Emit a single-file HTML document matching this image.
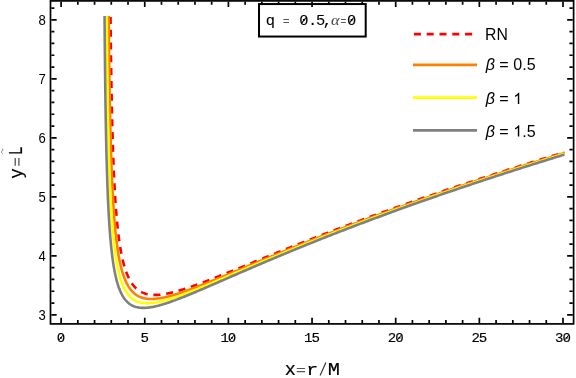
<!DOCTYPE html>
<html><head><meta charset="utf-8"><title>plot</title>
<style>html,body{margin:0;padding:0;background:#fff;}body{width:576px;height:378px;overflow:hidden;font-family:"Liberation Sans",sans-serif;}svg{display:block;will-change:transform;}</style>
</head><body>
<svg width="576" height="378" viewBox="0 0 576 378">
<rect x="0" y="0" width="576" height="378" fill="#ffffff"/>
<path d="M110.51 16.02 L110.52 16.73 L110.53 18.01 L110.54 19.28 L110.56 20.54 L110.57 21.80 L110.58 23.05 L110.60 24.29 L110.61 25.53 L110.62 26.76 L110.64 27.99 L110.65 29.21 L110.66 30.42 L110.68 31.63 L110.69 32.83 L110.71 34.02 L110.72 35.21 L110.73 36.39 L110.75 37.57 L110.76 38.74 L110.77 39.90 L110.79 41.06 L110.80 42.22 L110.82 43.36 L110.83 44.50 L110.85 45.64 L110.86 46.77 L110.87 47.89 L110.89 49.01 L110.90 50.12 L110.92 51.23 L110.93 52.33 L110.95 53.43 L110.96 54.52 L110.98 55.60 L110.99 56.68 L111.01 57.76 L111.02 58.83 L111.04 59.89 L111.05 60.95 L111.07 62.00 L111.08 63.05 L111.10 64.10 L111.11 65.13 L111.13 66.17 L111.14 67.19 L111.16 68.22 L111.17 69.23 L111.19 70.25 L111.20 71.26 L111.22 72.26 L111.23 73.26 L111.25 74.25 L111.27 75.24 L111.28 76.22 L111.30 77.20 L111.31 78.18 L111.33 79.15 L111.35 80.11 L111.36 81.07 L111.38 82.03 L111.39 82.98 L111.41 83.93 L111.43 84.87 L111.44 85.81 L111.46 86.74 L111.48 87.67 L111.49 88.59 L111.51 89.51 L111.53 90.43 L111.54 91.34 L111.56 92.25 L111.58 93.15 L111.59 94.05 L111.61 94.94 L111.63 95.83 L111.64 96.72 L111.66 97.60 L111.68 98.48 L111.70 99.35 L111.71 100.22 L111.73 101.09 L111.75 101.95 L111.77 102.81 L111.78 103.66 L111.80 104.51 L111.82 105.36 L111.84 106.20 L111.85 107.03 L111.87 107.87 L111.89 108.70 L111.91 109.52 L111.93 110.35 L111.94 111.17 L111.96 111.98 L111.98 112.79 L112.00 113.60 L112.02 114.40 L112.04 115.20 L112.05 116.00 L112.07 116.79 L112.09 117.58 L112.11 118.37 L112.13 119.15 L112.15 119.93 L112.17 120.70 L112.18 121.47 L112.20 122.24 L112.22 123.01 L112.24 123.77 L112.26 124.53 L112.28 125.28 L112.30 126.03 L112.32 126.78 L112.34 127.52 L112.36 128.26 L112.38 129.00 L112.40 129.73 L112.42 130.46 L112.44 131.19 L112.46 131.92 L112.48 132.64 L112.50 133.36 L112.52 134.07 L112.54 134.78 L112.56 135.49 L112.58 136.20 L112.60 136.90 L112.62 137.60 L112.64 138.29 L112.66 138.99 L112.68 139.68 L112.70 140.36 L112.72 141.05 L112.74 141.73 L112.76 142.40 L112.78 143.08 L112.80 143.75 L112.82 144.42 L112.84 145.09 L112.86 145.75 L112.89 146.41 L112.91 147.07 L112.93 147.72 L112.95 148.37 L112.97 149.02 L112.99 149.67 L113.01 150.31 L113.04 150.95 L113.06 151.59 L113.08 152.22 L113.10 152.85 L113.12 153.48 L113.14 154.11 L113.17 154.73 L113.19 155.36 L113.21 155.97 L113.23 156.59 L113.26 157.20 L113.28 157.81 L113.30 158.42 L113.32 159.03 L113.35 159.63 L113.37 160.23 L113.41 161.42 L113.46 162.61 L113.50 163.78 L113.55 164.94 L113.60 166.09 L113.64 167.24 L113.69 168.37 L113.74 169.49 L113.79 170.61 L113.83 171.71 L113.88 172.81 L113.93 173.89 L113.98 174.97 L114.03 176.04 L114.08 177.10 L114.13 178.15 L114.18 179.19 L114.23 180.22 L114.28 181.25 L114.33 182.26 L114.38 183.27 L114.43 184.27 L114.48 185.26 L114.53 186.24 L114.59 187.22 L114.64 188.19 L114.69 189.15 L114.74 190.10 L114.80 191.04 L114.85 191.97 L114.91 192.90 L114.96 193.82 L115.01 194.74 L115.07 195.64 L115.12 196.54 L115.18 197.43 L115.23 198.31 L115.29 199.19 L115.35 200.06 L115.40 200.92 L115.46 201.78 L115.52 202.62 L115.58 203.46 L115.63 204.30 L115.69 205.13 L115.75 205.95 L115.81 206.76 L115.87 207.57 L115.93 208.37 L115.99 209.17 L116.05 209.96 L116.11 210.74 L116.17 211.52 L116.23 212.29 L116.29 213.05 L116.35 213.81 L116.41 214.56 L116.48 215.30 L116.54 216.04 L116.60 216.78 L116.66 217.51 L116.73 218.23 L116.79 218.94 L116.86 219.66 L116.92 220.36 L116.98 221.06 L117.05 221.75 L117.11 222.44 L117.18 223.13 L117.25 223.80 L117.31 224.48 L117.38 225.14 L117.45 225.80 L117.51 226.46 L117.58 227.11 L117.65 227.76 L117.72 228.40 L117.79 229.03 L117.86 229.67 L117.93 230.29 L118.00 230.91 L118.07 231.53 L118.14 232.14 L118.21 232.75 L118.28 233.35 L118.35 233.95 L118.46 234.83 L118.57 235.71 L118.67 236.57 L118.78 237.43 L118.90 238.28 L119.01 239.11 L119.12 239.94 L119.23 240.75 L119.35 241.56 L119.46 242.36 L119.58 243.14 L119.69 243.92 L119.81 244.69 L119.93 245.45 L120.05 246.20 L120.17 246.94 L120.29 247.68 L120.41 248.40 L120.53 249.12 L120.65 249.82 L120.78 250.52 L120.90 251.21 L121.03 251.90 L121.15 252.57 L121.28 253.24 L121.41 253.90 L121.54 254.55 L121.67 255.19 L121.80 255.82 L121.93 256.45 L122.06 257.07 L122.19 257.69 L122.33 258.29 L122.46 258.89 L122.60 259.48 L122.78 260.26 L122.96 261.02 L123.15 261.77 L123.33 262.51 L123.52 263.24 L123.71 263.96 L123.90 264.66 L124.09 265.35 L124.29 266.03 L124.49 266.70 L124.68 267.36 L124.88 268.01 L125.08 268.65 L125.29 269.28 L125.49 269.89 L125.70 270.50 L125.90 271.09 L126.11 271.68 L126.32 272.25 L126.53 272.82 L126.80 273.51 L127.07 274.19 L127.35 274.86 L127.62 275.51 L127.90 276.14 L128.18 276.76 L128.46 277.37 L128.75 277.97 L129.04 278.55 L129.33 279.12 L129.63 279.67 L129.92 280.21 L130.22 280.74 L130.59 281.36 L130.95 281.96 L131.33 282.55 L131.70 283.11 L132.08 283.67 L132.46 284.20 L132.85 284.72 L133.24 285.22 L133.64 285.71 L134.04 286.18 L134.45 286.64 L134.85 287.08 L135.34 287.58 L135.82 288.05 L136.32 288.51 L136.82 288.95 L137.32 289.37 L137.84 289.78 L138.35 290.16 L138.88 290.53 L139.41 290.89 L139.94 291.22 L140.48 291.54 L141.03 291.84 L141.59 292.13 L142.15 292.40 L142.71 292.66 L143.29 292.90 L143.87 293.12 L144.45 293.33 L145.04 293.53 L145.64 293.71 L146.25 293.88 L146.86 294.04 L147.48 294.18 L148.10 294.31 L148.73 294.43 L149.37 294.53 L150.02 294.62 L150.67 294.70 L151.33 294.77 L151.99 294.82 L152.66 294.86 L153.34 294.90 L154.03 294.91 L154.72 294.92 L155.42 294.92 L156.02 294.91 L156.63 294.89 L157.25 294.86 L157.87 294.83 L158.50 294.79 L159.13 294.74 L159.76 294.68 L160.40 294.62 L161.05 294.54 L161.70 294.47 L162.36 294.38 L163.02 294.29 L163.69 294.19 L164.37 294.08 L165.05 293.97 L165.73 293.85 L166.42 293.72 L167.12 293.59 L167.82 293.45 L168.41 293.33 L169.00 293.20 L169.59 293.07 L170.19 292.94 L170.80 292.80 L171.41 292.65 L172.02 292.51 L172.63 292.36 L173.25 292.20 L173.88 292.04 L174.51 291.88 L175.14 291.71 L175.77 291.54 L176.41 291.36 L177.06 291.18 L177.71 291.00 L178.36 290.81 L179.01 290.62 L179.67 290.43 L180.34 290.23 L181.01 290.03 L181.68 289.82 L182.36 289.62 L183.04 289.40 L183.72 289.19 L184.41 288.97 L185.10 288.74 L185.80 288.52 L186.50 288.29 L187.21 288.05 L187.92 287.81 L188.49 287.62 L189.07 287.43 L189.64 287.23 L190.22 287.03 L190.80 286.83 L191.39 286.63 L191.98 286.42 L192.57 286.22 L193.16 286.01 L193.76 285.80 L194.35 285.59 L194.96 285.37 L195.56 285.15 L196.17 284.93 L196.78 284.71 L197.39 284.49 L198.01 284.27 L198.62 284.04 L199.25 283.81 L199.87 283.58 L200.50 283.35 L201.13 283.11 L201.76 282.88 L202.40 282.64 L203.03 282.40 L203.68 282.16 L204.32 281.91 L204.97 281.67 L205.62 281.42 L206.27 281.17 L206.93 280.92 L207.58 280.67 L208.25 280.41 L208.91 280.16 L209.58 279.90 L210.25 279.64 L210.92 279.38 L211.60 279.11 L212.28 278.85 L212.96 278.58 L213.65 278.31 L214.33 278.04 L215.03 277.77 L215.72 277.50 L216.42 277.22 L217.12 276.95 L217.82 276.67 L218.53 276.39 L219.24 276.11 L219.95 275.82 L220.66 275.54 L221.38 275.25 L222.10 274.96 L222.83 274.67 L223.56 274.38 L224.29 274.09 L225.02 273.80 L225.76 273.50 L226.50 273.20 L227.06 272.98 L227.62 272.75 L228.18 272.53 L228.74 272.30 L229.30 272.07 L229.87 271.85 L230.44 271.62 L231.01 271.39 L231.58 271.16 L232.15 270.93 L232.72 270.69 L233.30 270.46 L233.88 270.23 L234.46 269.99 L235.04 269.75 L235.62 269.52 L236.21 269.28 L236.80 269.04 L237.39 268.80 L237.98 268.56 L238.57 268.32 L239.16 268.08 L239.76 267.84 L240.36 267.60 L240.96 267.35 L241.56 267.11 L242.16 266.86 L242.77 266.62 L243.38 266.37 L243.98 266.12 L244.60 265.88 L245.21 265.63 L245.82 265.38 L246.44 265.13 L247.06 264.87 L247.68 264.62 L248.30 264.37 L248.92 264.12 L249.55 263.86 L250.17 263.61 L250.80 263.35 L251.43 263.09 L252.07 262.84 L252.70 262.58 L253.34 262.32 L253.98 262.06 L254.62 261.80 L255.26 261.54 L255.90 261.28 L256.55 261.01 L257.20 260.75 L257.85 260.49 L258.50 260.22 L259.15 259.96 L259.81 259.69 L260.47 259.43 L261.13 259.16 L261.79 258.89 L262.45 258.62 L263.11 258.35 L263.78 258.08 L264.45 257.81 L265.12 257.54 L265.79 257.27 L266.47 256.99 L267.14 256.72 L267.82 256.45 L268.50 256.17 L269.19 255.90 L269.87 255.62 L270.56 255.34 L271.24 255.06 L271.93 254.79 L272.63 254.51 L273.32 254.23 L274.02 253.95 L274.71 253.67 L275.41 253.38 L276.11 253.10 L276.82 252.82 L277.52 252.54 L278.23 252.25 L278.94 251.97 L279.65 251.68 L280.37 251.39 L281.08 251.11 L281.80 250.82 L282.52 250.53 L283.24 250.24 L283.96 249.95 L284.69 249.66 L285.42 249.37 L286.15 249.08 L286.88 248.79 L287.61 248.50 L288.35 248.21 L289.08 247.91 L289.82 247.62 L290.56 247.32 L291.31 247.03 L292.05 246.73 L292.80 246.43 L293.55 246.14 L294.30 245.84 L295.06 245.54 L295.81 245.24 L296.57 244.94 L297.33 244.64 L298.09 244.34 L298.85 244.04 L299.62 243.74 L300.39 243.43 L301.16 243.13 L301.93 242.83 L302.70 242.52 L303.48 242.22 L304.26 241.91 L305.04 241.60 L305.82 241.30 L306.61 240.99 L307.39 240.68 L308.18 240.37 L308.97 240.06 L309.76 239.75 L310.56 239.44 L311.36 239.13 L312.15 238.82 L312.96 238.51 L313.76 238.20 L314.56 237.88 L315.37 237.57 L316.18 237.26 L316.99 236.94 L317.81 236.62 L318.62 236.31 L319.44 235.99 L320.26 235.68 L321.08 235.36 L321.91 235.04 L322.73 234.72 L323.56 234.40 L324.39 234.08 L325.22 233.76 L326.06 233.44 L326.90 233.12 L327.74 232.80 L328.30 232.58 L328.86 232.37 L329.42 232.15 L329.98 231.94 L330.55 231.72 L331.11 231.50 L331.68 231.29 L332.25 231.07 L332.82 230.85 L333.38 230.64 L333.96 230.42 L334.53 230.20 L335.10 229.98 L335.67 229.77 L336.25 229.55 L336.82 229.33 L337.40 229.11 L337.97 228.89 L338.55 228.67 L339.13 228.45 L339.71 228.23 L340.29 228.01 L340.87 227.79 L341.46 227.57 L342.04 227.35 L342.62 227.13 L343.21 226.91 L343.80 226.69 L344.38 226.47 L344.97 226.25 L345.56 226.02 L346.15 225.80 L346.75 225.58 L347.34 225.36 L347.93 225.13 L348.53 224.91 L349.12 224.69 L349.72 224.46 L350.32 224.24 L350.91 224.02 L351.51 223.79 L352.11 223.57 L352.72 223.34 L353.32 223.12 L353.92 222.89 L354.53 222.67 L355.13 222.44 L355.74 222.22 L356.35 221.99 L356.95 221.76 L357.56 221.54 L358.17 221.31 L358.78 221.08 L359.40 220.86 L360.01 220.63 L360.62 220.40 L361.24 220.18 L361.86 219.95 L362.47 219.72 L363.09 219.49 L363.71 219.26 L364.33 219.03 L364.95 218.80 L365.58 218.58 L366.20 218.35 L366.82 218.12 L367.45 217.89 L368.08 217.66 L368.70 217.43 L369.33 217.20 L369.96 216.96 L370.59 216.73 L371.22 216.50 L371.85 216.27 L372.49 216.04 L373.12 215.81 L373.76 215.58 L374.39 215.34 L375.03 215.11 L375.67 214.88 L376.31 214.65 L376.95 214.41 L377.59 214.18 L378.24 213.95 L378.88 213.71 L379.52 213.48 L380.17 213.24 L380.82 213.01 L381.46 212.77 L382.11 212.54 L382.76 212.31 L383.41 212.07 L384.06 211.83 L384.72 211.60 L385.37 211.36 L386.03 211.13 L386.68 210.89 L387.34 210.65 L388.00 210.42 L388.66 210.18 L389.32 209.94 L389.98 209.71 L390.64 209.47 L391.30 209.23 L391.97 208.99 L392.63 208.76 L393.30 208.52 L393.97 208.28 L394.64 208.04 L395.30 207.80 L395.98 207.56 L396.65 207.32 L397.32 207.08 L397.99 206.84 L398.67 206.61 L399.34 206.36 L400.02 206.12 L400.70 205.88 L401.38 205.64 L402.06 205.40 L402.74 205.16 L403.42 204.92 L404.10 204.68 L404.79 204.44 L405.47 204.20 L406.16 203.95 L406.85 203.71 L407.53 203.47 L408.22 203.23 L408.91 202.98 L409.61 202.74 L410.30 202.50 L410.99 202.25 L411.69 202.01 L412.38 201.77 L413.08 201.52 L413.78 201.28 L414.48 201.03 L415.18 200.79 L415.88 200.55 L416.58 200.30 L417.28 200.06 L417.99 199.81 L418.69 199.56 L419.40 199.32 L420.11 199.07 L420.81 198.83 L421.52 198.58 L422.24 198.33 L422.95 198.09 L423.66 197.84 L424.37 197.59 L425.09 197.35 L425.80 197.10 L426.52 196.85 L427.24 196.60 L427.96 196.36 L428.68 196.11 L429.40 195.86 L430.12 195.61 L430.85 195.36 L431.57 195.11 L432.30 194.86 L433.03 194.61 L433.75 194.36 L434.48 194.12 L435.21 193.87 L435.94 193.62 L436.68 193.37 L437.41 193.11 L438.14 192.86 L438.88 192.61 L439.62 192.36 L440.35 192.11 L441.09 191.86 L441.83 191.61 L442.57 191.36 L443.32 191.10 L444.06 190.85 L444.80 190.60 L445.55 190.35 L446.30 190.10 L447.04 189.84 L447.79 189.59 L448.54 189.34 L449.29 189.08 L450.05 188.83 L450.80 188.58 L451.55 188.32 L452.31 188.07 L453.07 187.81 L453.82 187.56 L454.58 187.30 L455.34 187.05 L456.10 186.79 L456.87 186.54 L457.63 186.28 L458.39 186.03 L459.16 185.77 L459.92 185.52 L460.69 185.26 L461.46 185.01 L462.23 184.75 L463.00 184.49 L463.77 184.24 L464.55 183.98 L465.32 183.72 L466.10 183.46 L466.87 183.21 L467.65 182.95 L468.43 182.69 L469.21 182.43 L469.99 182.18 L470.77 181.92 L471.56 181.66 L472.34 181.40 L473.13 181.14 L473.91 180.88 L474.70 180.62 L475.49 180.36 L476.28 180.10 L477.07 179.84 L477.87 179.58 L478.66 179.32 L479.45 179.06 L480.25 178.80 L481.05 178.54 L481.84 178.28 L482.64 178.02 L483.44 177.76 L484.25 177.50 L485.05 177.24 L485.85 176.98 L486.66 176.71 L487.46 176.45 L488.27 176.19 L489.08 175.93 L489.89 175.66 L490.70 175.40 L491.51 175.14 L492.32 174.88 L493.14 174.61 L493.95 174.35 L494.77 174.09 L495.59 173.82 L496.41 173.56 L497.23 173.29 L498.05 173.03 L498.87 172.77 L499.69 172.50 L500.52 172.24 L501.34 171.97 L502.17 171.71 L503.00 171.44 L503.83 171.18 L504.66 170.91 L505.49 170.64 L506.32 170.38 L507.15 170.11 L507.99 169.85 L508.83 169.58 L509.66 169.31 L510.50 169.05 L511.34 168.78 L512.18 168.51 L513.02 168.25 L513.87 167.98 L514.71 167.71 L515.56 167.44 L516.40 167.18 L517.25 166.91 L518.10 166.64 L518.95 166.37 L519.80 166.10 L520.65 165.83 L521.51 165.57 L522.36 165.30 L523.22 165.03 L524.08 164.76 L524.93 164.49 L525.79 164.22 L526.65 163.95 L527.52 163.68 L528.38 163.41 L529.24 163.14 L530.11 162.87 L530.98 162.60 L531.84 162.33 L532.71 162.06 L533.58 161.78 L534.45 161.51 L535.33 161.24 L536.20 160.97 L537.08 160.70 L537.95 160.43 L538.83 160.15 L539.71 159.88 L540.59 159.61 L541.47 159.34 L542.35 159.06 L543.23 158.79 L544.12 158.52 L545.00 158.25 L545.89 157.97 L546.78 157.70 L547.67 157.42 L548.56 157.15 L549.45 156.88 L550.34 156.60 L551.24 156.33 L552.13 156.05 L553.03 155.78 L553.93 155.50 L554.83 155.23 L555.73 154.95 L556.63 154.68 L557.53 154.40 L558.44 154.13 L559.34 153.85 L560.25 153.58 L561.15 153.30 L562.06 153.02 L562.97 152.75 L563.88 152.47 L564.34 152.33" fill="none" stroke="#ff0000" stroke-width="2.60" stroke-linejoin="round" stroke-dasharray="7 5.8" stroke-dashoffset="11.9"/>
<path d="M108.69 16.02 L108.70 17.10 L108.71 18.42 L108.72 19.74 L108.73 21.04 L108.74 22.34 L108.76 23.64 L108.77 24.92 L108.78 26.20 L108.79 27.47 L108.81 28.74 L108.82 30.00 L108.83 31.25 L108.85 32.49 L108.86 33.73 L108.87 34.96 L108.88 36.19 L108.90 37.41 L108.91 38.62 L108.92 39.83 L108.94 41.03 L108.95 42.22 L108.96 43.41 L108.98 44.59 L108.99 45.77 L109.00 46.94 L109.02 48.10 L109.03 49.26 L109.04 50.41 L109.06 51.56 L109.07 52.70 L109.09 53.83 L109.10 54.96 L109.11 56.08 L109.13 57.20 L109.14 58.31 L109.16 59.42 L109.17 60.52 L109.18 61.61 L109.20 62.70 L109.21 63.79 L109.23 64.86 L109.24 65.94 L109.26 67.00 L109.27 68.06 L109.28 69.12 L109.30 70.17 L109.31 71.22 L109.33 72.26 L109.34 73.29 L109.36 74.32 L109.37 75.35 L109.39 76.37 L109.40 77.39 L109.42 78.40 L109.43 79.40 L109.45 80.40 L109.46 81.40 L109.48 82.39 L109.49 83.37 L109.51 84.35 L109.52 85.33 L109.54 86.30 L109.56 87.27 L109.57 88.23 L109.59 89.18 L109.60 90.14 L109.62 91.08 L109.63 92.03 L109.65 92.97 L109.67 93.90 L109.68 94.83 L109.70 95.75 L109.71 96.67 L109.73 97.59 L109.75 98.50 L109.76 99.41 L109.78 100.31 L109.80 101.21 L109.81 102.11 L109.83 103.00 L109.85 103.88 L109.86 104.76 L109.88 105.64 L109.90 106.51 L109.91 107.38 L109.93 108.25 L109.95 109.11 L109.96 109.97 L109.98 110.82 L110.00 111.67 L110.01 112.51 L110.03 113.35 L110.05 114.19 L110.07 115.02 L110.08 115.85 L110.10 116.68 L110.12 117.50 L110.14 118.31 L110.15 119.13 L110.17 119.94 L110.19 120.74 L110.21 121.55 L110.22 122.34 L110.24 123.14 L110.26 123.93 L110.28 124.72 L110.30 125.50 L110.32 126.28 L110.33 127.06 L110.35 127.83 L110.37 128.60 L110.39 129.37 L110.41 130.13 L110.43 130.89 L110.44 131.64 L110.46 132.40 L110.48 133.15 L110.50 133.89 L110.52 134.63 L110.54 135.37 L110.56 136.11 L110.58 136.84 L110.59 137.57 L110.61 138.29 L110.63 139.01 L110.65 139.73 L110.67 140.45 L110.69 141.16 L110.71 141.87 L110.73 142.57 L110.75 143.28 L110.77 143.97 L110.79 144.67 L110.81 145.36 L110.83 146.05 L110.85 146.74 L110.87 147.42 L110.89 148.11 L110.91 148.78 L110.93 149.46 L110.95 150.13 L110.97 150.80 L110.99 151.46 L111.01 152.13 L111.03 152.79 L111.05 153.44 L111.07 154.10 L111.09 154.75 L111.11 155.40 L111.13 156.04 L111.16 156.68 L111.18 157.32 L111.20 157.96 L111.22 158.59 L111.24 159.23 L111.26 159.85 L111.28 160.48 L111.30 161.10 L111.32 161.72 L111.35 162.34 L111.37 162.96 L111.39 163.57 L111.41 164.18 L111.43 164.78 L111.45 165.39 L111.48 165.99 L111.52 167.18 L111.56 168.37 L111.61 169.54 L111.65 170.71 L111.70 171.86 L111.74 173.01 L111.79 174.14 L111.84 175.27 L111.88 176.38 L111.93 177.49 L111.97 178.58 L112.02 179.67 L112.07 180.75 L112.12 181.82 L112.16 182.88 L112.21 183.93 L112.26 184.97 L112.31 186.00 L112.36 187.03 L112.41 188.04 L112.46 189.05 L112.51 190.05 L112.56 191.04 L112.61 192.02 L112.66 192.99 L112.71 193.96 L112.76 194.92 L112.81 195.86 L112.86 196.81 L112.91 197.74 L112.97 198.67 L113.02 199.58 L113.07 200.49 L113.13 201.40 L113.18 202.29 L113.23 203.18 L113.29 204.06 L113.34 204.94 L113.40 205.80 L113.45 206.66 L113.51 207.51 L113.56 208.36 L113.62 209.20 L113.67 210.03 L113.73 210.85 L113.79 211.67 L113.84 212.48 L113.90 213.29 L113.96 214.09 L114.02 214.88 L114.08 215.66 L114.13 216.44 L114.19 217.21 L114.25 217.98 L114.31 218.74 L114.37 219.49 L114.43 220.24 L114.49 220.98 L114.55 221.72 L114.62 222.45 L114.68 223.17 L114.74 223.89 L114.80 224.60 L114.86 225.31 L114.93 226.01 L114.99 226.70 L115.05 227.39 L115.12 228.08 L115.18 228.76 L115.24 229.43 L115.31 230.10 L115.37 230.76 L115.44 231.42 L115.50 232.07 L115.57 232.71 L115.64 233.35 L115.70 233.99 L115.77 234.62 L115.84 235.25 L115.91 235.87 L115.97 236.48 L116.04 237.10 L116.11 237.70 L116.18 238.30 L116.25 238.90 L116.35 239.78 L116.46 240.66 L116.56 241.52 L116.67 242.38 L116.78 243.22 L116.89 244.06 L117.00 244.88 L117.11 245.69 L117.22 246.50 L117.33 247.29 L117.44 248.08 L117.55 248.85 L117.67 249.62 L117.78 250.38 L117.90 251.13 L118.01 251.87 L118.13 252.60 L118.25 253.32 L118.37 254.03 L118.49 254.73 L118.61 255.43 L118.73 256.12 L118.85 256.80 L118.97 257.47 L119.10 258.13 L119.22 258.79 L119.35 259.43 L119.47 260.07 L119.60 260.70 L119.73 261.33 L119.86 261.94 L119.99 262.55 L120.12 263.15 L120.25 263.75 L120.38 264.33 L120.56 265.10 L120.73 265.86 L120.91 266.61 L121.10 267.34 L121.28 268.06 L121.46 268.77 L121.65 269.47 L121.84 270.16 L122.03 270.83 L122.22 271.49 L122.41 272.15 L122.61 272.79 L122.80 273.42 L123.00 274.04 L123.20 274.65 L123.40 275.25 L123.60 275.84 L123.81 276.42 L124.01 276.98 L124.27 277.68 L124.53 278.36 L124.80 279.03 L125.07 279.68 L125.34 280.32 L125.61 280.94 L125.88 281.55 L126.16 282.15 L126.44 282.73 L126.72 283.30 L127.01 283.86 L127.30 284.40 L127.59 284.93 L127.94 285.55 L128.30 286.15 L128.66 286.74 L129.02 287.30 L129.39 287.85 L129.77 288.39 L130.14 288.90 L130.52 289.41 L130.91 289.89 L131.30 290.36 L131.69 290.82 L132.16 291.33 L132.63 291.82 L133.10 292.30 L133.58 292.75 L134.07 293.18 L134.56 293.60 L135.06 294.00 L135.57 294.38 L136.08 294.74 L136.60 295.09 L137.12 295.42 L137.65 295.73 L138.18 296.03 L138.72 296.31 L139.27 296.57 L139.83 296.82 L140.39 297.06 L140.95 297.28 L141.52 297.48 L142.10 297.67 L142.69 297.85 L143.28 298.01 L143.88 298.16 L144.48 298.30 L145.09 298.42 L145.71 298.53 L146.33 298.63 L146.97 298.71 L147.60 298.78 L148.25 298.84 L148.90 298.89 L149.56 298.93 L150.22 298.95 L150.89 298.96 L151.57 298.97 L152.25 298.96 L152.95 298.94 L153.64 298.91 L154.25 298.87 L154.86 298.83 L155.47 298.78 L156.09 298.72 L156.72 298.65 L157.35 298.58 L157.99 298.50 L158.63 298.42 L159.27 298.32 L159.93 298.22 L160.58 298.11 L161.25 298.00 L161.91 297.88 L162.59 297.75 L163.27 297.61 L163.95 297.47 L164.64 297.33 L165.34 297.17 L166.04 297.01 L166.63 296.87 L167.22 296.73 L167.81 296.59 L168.41 296.43 L169.02 296.28 L169.63 296.12 L170.24 295.96 L170.85 295.79 L171.47 295.62 L172.10 295.44 L172.72 295.27 L173.36 295.08 L173.99 294.90 L174.63 294.71 L175.28 294.51 L175.92 294.31 L176.58 294.11 L177.23 293.91 L177.89 293.70 L178.56 293.48 L179.22 293.27 L179.90 293.05 L180.57 292.82 L181.25 292.60 L181.94 292.37 L182.63 292.13 L183.32 291.90 L184.02 291.66 L184.72 291.41 L185.43 291.16 L185.99 290.96 L186.57 290.76 L187.14 290.56 L187.71 290.35 L188.29 290.14 L188.87 289.93 L189.46 289.72 L190.05 289.50 L190.64 289.29 L191.23 289.07 L191.82 288.85 L192.42 288.62 L193.02 288.40 L193.63 288.17 L194.23 287.94 L194.84 287.71 L195.45 287.48 L196.07 287.25 L196.69 287.01 L197.31 286.77 L197.93 286.53 L198.56 286.29 L199.19 286.05 L199.82 285.80 L200.45 285.56 L201.09 285.31 L201.73 285.06 L202.38 284.80 L203.02 284.55 L203.67 284.29 L204.33 284.03 L204.98 283.77 L205.64 283.51 L206.30 283.25 L206.96 282.98 L207.63 282.72 L208.30 282.45 L208.97 282.18 L209.65 281.91 L210.33 281.63 L211.01 281.36 L211.70 281.08 L212.38 280.80 L213.07 280.52 L213.77 280.24 L214.46 279.96 L215.16 279.67 L215.87 279.39 L216.57 279.10 L217.28 278.81 L217.99 278.52 L218.71 278.23 L219.43 277.93 L220.15 277.64 L220.87 277.34 L221.60 277.04 L222.33 276.74 L223.06 276.44 L223.80 276.13 L224.54 275.83 L225.10 275.60 L225.66 275.37 L226.22 275.14 L226.78 274.91 L227.34 274.67 L227.91 274.44 L228.47 274.20 L229.04 273.97 L229.61 273.73 L230.19 273.50 L230.76 273.26 L231.34 273.02 L231.92 272.78 L232.50 272.54 L233.08 272.30 L233.66 272.06 L234.25 271.81 L234.83 271.57 L235.42 271.32 L236.01 271.08 L236.60 270.83 L237.20 270.59 L237.79 270.34 L238.39 270.09 L238.99 269.84 L239.59 269.59 L240.20 269.34 L240.80 269.09 L241.41 268.84 L242.02 268.59 L242.63 268.33 L243.24 268.08 L243.85 267.82 L244.47 267.57 L245.09 267.31 L245.71 267.05 L246.33 266.80 L246.95 266.54 L247.58 266.28 L248.20 266.02 L248.83 265.76 L249.46 265.50 L250.10 265.23 L250.73 264.97 L251.37 264.71 L252.01 264.44 L252.65 264.18 L253.29 263.91 L253.93 263.64 L254.58 263.38 L255.23 263.11 L255.88 262.84 L256.53 262.57 L257.18 262.30 L257.84 262.03 L258.49 261.76 L259.15 261.49 L259.81 261.21 L260.48 260.94 L261.14 260.67 L261.81 260.39 L262.48 260.12 L263.15 259.84 L263.82 259.56 L264.49 259.28 L265.17 259.01 L265.85 258.73 L266.53 258.45 L267.21 258.17 L267.89 257.89 L268.58 257.61 L269.27 257.32 L269.96 257.04 L270.65 256.76 L271.34 256.47 L272.04 256.19 L272.74 255.90 L273.44 255.62 L274.14 255.33 L274.84 255.04 L275.55 254.75 L276.25 254.47 L276.96 254.18 L277.68 253.89 L278.39 253.60 L279.10 253.30 L279.82 253.01 L280.54 252.72 L281.26 252.43 L281.99 252.13 L282.71 251.84 L283.44 251.54 L284.17 251.25 L284.90 250.95 L285.63 250.66 L286.37 250.36 L287.11 250.06 L287.85 249.76 L288.59 249.46 L289.33 249.16 L290.08 248.86 L290.82 248.56 L291.57 248.26 L292.32 247.96 L293.08 247.66 L293.83 247.35 L294.59 247.05 L295.35 246.74 L296.11 246.44 L296.88 246.13 L297.64 245.83 L298.41 245.52 L299.18 245.21 L299.95 244.90 L300.73 244.60 L301.50 244.29 L302.28 243.98 L303.06 243.67 L303.84 243.36 L304.63 243.04 L305.41 242.73 L306.20 242.42 L306.99 242.11 L307.79 241.79 L308.58 241.48 L309.38 241.16 L310.18 240.85 L310.98 240.53 L311.78 240.22 L312.59 239.90 L313.39 239.58 L314.20 239.26 L315.02 238.94 L315.83 238.63 L316.65 238.31 L317.46 237.98 L318.28 237.66 L319.11 237.34 L319.93 237.02 L320.76 236.70 L321.59 236.38 L322.42 236.05 L323.25 235.73 L324.08 235.40 L324.92 235.08 L325.76 234.75 L326.32 234.53 L326.88 234.32 L327.45 234.10 L328.01 233.88 L328.57 233.66 L329.14 233.44 L329.71 233.23 L330.27 233.01 L330.84 232.79 L331.41 232.57 L331.98 232.35 L332.55 232.13 L333.13 231.91 L333.70 231.69 L334.27 231.47 L334.85 231.25 L335.42 231.02 L336.00 230.80 L336.58 230.58 L337.16 230.36 L337.74 230.14 L338.32 229.92 L338.90 229.69 L339.48 229.47 L340.07 229.25 L340.65 229.02 L341.24 228.80 L341.83 228.58 L342.41 228.35 L343.00 228.13 L343.59 227.90 L344.18 227.68 L344.78 227.46 L345.37 227.23 L345.96 227.01 L346.56 226.78 L347.15 226.55 L347.75 226.33 L348.35 226.10 L348.95 225.88 L349.55 225.65 L350.15 225.42 L350.75 225.20 L351.35 224.97 L351.95 224.74 L352.56 224.51 L353.16 224.29 L353.77 224.06 L354.38 223.83 L354.99 223.60 L355.60 223.37 L356.21 223.14 L356.82 222.91 L357.43 222.69 L358.04 222.46 L358.66 222.23 L359.27 222.00 L359.89 221.77 L360.51 221.54 L361.13 221.30 L361.75 221.07 L362.37 220.84 L362.99 220.61 L363.61 220.38 L364.24 220.15 L364.86 219.92 L365.49 219.68 L366.11 219.45 L366.74 219.22 L367.37 218.99 L368.00 218.75 L368.63 218.52 L369.26 218.29 L369.89 218.05 L370.53 217.82 L371.16 217.59 L371.80 217.35 L372.43 217.12 L373.07 216.88 L373.71 216.65 L374.35 216.41 L374.99 216.18 L375.63 215.94 L376.28 215.71 L376.92 215.47 L377.57 215.23 L378.21 215.00 L378.86 214.76 L379.51 214.53 L380.16 214.29 L380.81 214.05 L381.46 213.81 L382.11 213.58 L382.76 213.34 L383.42 213.10 L384.07 212.86 L384.73 212.62 L385.38 212.39 L386.04 212.15 L386.70 211.91 L387.36 211.67 L388.02 211.43 L388.69 211.19 L389.35 210.95 L390.01 210.71 L390.68 210.47 L391.35 210.23 L392.01 209.99 L392.68 209.75 L393.35 209.51 L394.02 209.27 L394.70 209.03 L395.37 208.78 L396.04 208.54 L396.72 208.30 L397.39 208.06 L398.07 207.82 L398.75 207.57 L399.43 207.33 L400.11 207.09 L400.79 206.85 L401.47 206.60 L402.16 206.36 L402.84 206.12 L403.53 205.87 L404.21 205.63 L404.90 205.38 L405.59 205.14 L406.28 204.89 L406.97 204.65 L407.66 204.40 L408.35 204.16 L409.05 203.91 L409.74 203.67 L410.44 203.42 L411.14 203.18 L411.84 202.93 L412.53 202.68 L413.23 202.44 L413.94 202.19 L414.64 201.94 L415.34 201.70 L416.05 201.45 L416.75 201.20 L417.46 200.95 L418.17 200.71 L418.88 200.46 L419.59 200.21 L420.30 199.96 L421.01 199.71 L421.72 199.46 L422.44 199.22 L423.15 198.97 L423.87 198.72 L424.59 198.47 L425.31 198.22 L426.03 197.97 L426.75 197.72 L427.47 197.47 L428.19 197.22 L428.92 196.97 L429.64 196.72 L430.37 196.46 L431.09 196.21 L431.82 195.96 L432.55 195.71 L433.28 195.46 L434.02 195.21 L434.75 194.95 L435.48 194.70 L436.22 194.45 L436.95 194.20 L437.69 193.94 L438.43 193.69 L439.17 193.44 L439.91 193.18 L440.65 192.93 L441.39 192.68 L442.14 192.42 L442.88 192.17 L443.63 191.91 L444.37 191.66 L445.12 191.41 L445.87 191.15 L446.62 190.90 L447.37 190.64 L448.13 190.39 L448.88 190.13 L449.63 189.87 L450.39 189.62 L451.15 189.36 L451.91 189.11 L452.67 188.85 L453.43 188.59 L454.19 188.34 L454.95 188.08 L455.71 187.82 L456.48 187.56 L457.24 187.31 L458.01 187.05 L458.78 186.79 L459.55 186.53 L460.32 186.27 L461.09 186.02 L461.86 185.76 L462.64 185.50 L463.41 185.24 L464.19 184.98 L464.97 184.72 L465.74 184.46 L466.52 184.20 L467.30 183.94 L468.09 183.68 L468.87 183.42 L469.65 183.16 L470.44 182.90 L471.22 182.64 L472.01 182.38 L472.80 182.12 L473.59 181.86 L474.38 181.60 L475.17 181.34 L475.96 181.07 L476.76 180.81 L477.55 180.55 L478.35 180.29 L479.15 180.03 L479.95 179.76 L480.75 179.50 L481.55 179.24 L482.35 178.97 L483.15 178.71 L483.96 178.45 L484.76 178.18 L485.57 177.92 L486.38 177.66 L487.19 177.39 L488.00 177.13 L488.81 176.86 L489.62 176.60 L490.43 176.33 L491.25 176.07 L492.06 175.80 L492.88 175.54 L493.70 175.27 L494.52 175.01 L495.34 174.74 L496.16 174.48 L496.98 174.21 L497.81 173.94 L498.63 173.68 L499.46 173.41 L500.29 173.14 L501.12 172.88 L501.95 172.61 L502.78 172.34 L503.61 172.08 L504.44 171.81 L505.28 171.54 L506.11 171.27 L506.95 171.00 L507.79 170.74 L508.63 170.47 L509.47 170.20 L510.31 169.93 L511.15 169.66 L511.99 169.39 L512.84 169.12 L513.69 168.85 L514.53 168.58 L515.38 168.32 L516.23 168.05 L517.08 167.78 L517.93 167.51 L518.79 167.23 L519.64 166.96 L520.50 166.69 L521.35 166.42 L522.21 166.15 L523.07 165.88 L523.93 165.61 L524.79 165.34 L525.66 165.07 L526.52 164.79 L527.38 164.52 L528.25 164.25 L529.12 163.98 L529.99 163.71 L530.86 163.43 L531.73 163.16 L532.60 162.89 L533.47 162.61 L534.35 162.34 L535.22 162.07 L536.10 161.79 L536.98 161.52 L537.86 161.25 L538.74 160.97 L539.62 160.70 L540.50 160.42 L541.39 160.15 L542.27 159.88 L543.16 159.60 L544.05 159.33 L544.94 159.05 L545.83 158.77 L546.72 158.50 L547.61 158.22 L548.50 157.95 L549.40 157.67 L550.29 157.40 L551.19 157.12 L552.09 156.84 L552.99 156.57 L553.89 156.29 L554.79 156.01 L555.70 155.74 L556.60 155.46 L557.51 155.18 L558.41 154.90 L559.32 154.63 L560.23 154.35 L561.14 154.07 L562.05 153.79 L562.97 153.52 L563.88 153.24 L564.34 153.10" fill="none" stroke="#ff8000" stroke-width="2.60" stroke-linejoin="round"/>
<path d="M106.72 16.02 L106.73 17.36 L106.74 18.73 L106.75 20.10 L106.76 21.45 L106.77 22.80 L106.79 24.14 L106.80 25.47 L106.81 26.80 L106.82 28.11 L106.83 29.42 L106.84 30.73 L106.86 32.02 L106.87 33.31 L106.88 34.60 L106.89 35.87 L106.91 37.14 L106.92 38.40 L106.93 39.66 L106.94 40.91 L106.95 42.15 L106.97 43.38 L106.98 44.61 L106.99 45.83 L107.01 47.05 L107.02 48.26 L107.03 49.46 L107.04 50.66 L107.06 51.85 L107.07 53.03 L107.08 54.21 L107.10 55.38 L107.11 56.54 L107.12 57.70 L107.13 58.85 L107.15 60.00 L107.16 61.14 L107.17 62.28 L107.19 63.41 L107.20 64.53 L107.21 65.65 L107.23 66.76 L107.24 67.86 L107.26 68.96 L107.27 70.06 L107.28 71.15 L107.30 72.23 L107.31 73.31 L107.32 74.38 L107.34 75.44 L107.35 76.51 L107.37 77.56 L107.38 78.61 L107.39 79.66 L107.41 80.70 L107.42 81.73 L107.44 82.76 L107.45 83.78 L107.47 84.80 L107.48 85.82 L107.50 86.82 L107.51 87.83 L107.52 88.83 L107.54 89.82 L107.55 90.81 L107.57 91.79 L107.58 92.77 L107.60 93.74 L107.61 94.71 L107.63 95.68 L107.64 96.64 L107.66 97.59 L107.67 98.54 L107.69 99.48 L107.70 100.42 L107.72 101.36 L107.74 102.29 L107.75 103.22 L107.77 104.14 L107.78 105.06 L107.80 105.97 L107.81 106.88 L107.83 107.78 L107.84 108.68 L107.86 109.58 L107.88 110.47 L107.89 111.36 L107.91 112.24 L107.92 113.12 L107.94 113.99 L107.96 114.86 L107.97 115.72 L107.99 116.59 L108.01 117.44 L108.02 118.30 L108.04 119.14 L108.06 119.99 L108.07 120.83 L108.09 121.67 L108.11 122.50 L108.12 123.33 L108.14 124.15 L108.16 124.97 L108.17 125.79 L108.19 126.60 L108.21 127.41 L108.22 128.22 L108.24 129.02 L108.26 129.82 L108.28 130.61 L108.29 131.40 L108.31 132.19 L108.33 132.97 L108.35 133.75 L108.36 134.52 L108.38 135.30 L108.40 136.06 L108.42 136.83 L108.44 137.59 L108.45 138.35 L108.47 139.10 L108.49 139.85 L108.51 140.60 L108.53 141.34 L108.54 142.08 L108.56 142.82 L108.58 143.55 L108.60 144.28 L108.62 145.01 L108.64 145.73 L108.65 146.45 L108.67 147.17 L108.69 147.88 L108.71 148.59 L108.73 149.30 L108.75 150.00 L108.77 150.70 L108.79 151.40 L108.81 152.09 L108.82 152.78 L108.84 153.47 L108.86 154.15 L108.88 154.83 L108.90 155.51 L108.92 156.19 L108.94 156.86 L108.96 157.53 L108.98 158.19 L109.00 158.86 L109.02 159.52 L109.04 160.17 L109.06 160.83 L109.08 161.48 L109.10 162.13 L109.12 162.77 L109.14 163.41 L109.16 164.05 L109.18 164.69 L109.20 165.32 L109.22 165.95 L109.24 166.58 L109.26 167.21 L109.28 167.83 L109.30 168.45 L109.32 169.07 L109.35 169.68 L109.37 170.29 L109.39 170.90 L109.41 171.51 L109.43 172.11 L109.45 172.71 L109.49 173.90 L109.54 175.08 L109.58 176.26 L109.62 177.42 L109.67 178.57 L109.71 179.71 L109.75 180.84 L109.80 181.97 L109.84 183.08 L109.89 184.18 L109.93 185.27 L109.98 186.36 L110.02 187.43 L110.07 188.49 L110.12 189.55 L110.16 190.60 L110.21 191.63 L110.26 192.66 L110.30 193.68 L110.35 194.69 L110.40 195.69 L110.45 196.69 L110.50 197.67 L110.55 198.65 L110.59 199.62 L110.64 200.58 L110.69 201.53 L110.74 202.47 L110.79 203.41 L110.84 204.34 L110.90 205.26 L110.95 206.17 L111.00 207.07 L111.05 207.97 L111.10 208.86 L111.15 209.74 L111.21 210.62 L111.26 211.49 L111.31 212.35 L111.37 213.20 L111.42 214.04 L111.47 214.88 L111.53 215.71 L111.58 216.54 L111.64 217.36 L111.69 218.17 L111.75 218.97 L111.80 219.77 L111.86 220.56 L111.92 221.35 L111.97 222.12 L112.03 222.90 L112.09 223.66 L112.14 224.42 L112.20 225.17 L112.26 225.92 L112.32 226.66 L112.38 227.39 L112.44 228.12 L112.50 228.84 L112.56 229.56 L112.62 230.27 L112.68 230.98 L112.74 231.67 L112.80 232.37 L112.86 233.06 L112.92 233.74 L112.98 234.41 L113.05 235.08 L113.11 235.75 L113.17 236.41 L113.24 237.06 L113.30 237.71 L113.36 238.36 L113.43 238.99 L113.49 239.63 L113.56 240.26 L113.62 240.88 L113.69 241.50 L113.75 242.11 L113.82 242.72 L113.89 243.32 L113.95 243.92 L114.05 244.81 L114.16 245.68 L114.26 246.55 L114.36 247.41 L114.47 248.25 L114.57 249.09 L114.68 249.91 L114.78 250.73 L114.89 251.53 L115.00 252.33 L115.11 253.11 L115.21 253.89 L115.33 254.66 L115.44 255.41 L115.55 256.16 L115.66 256.90 L115.77 257.63 L115.89 258.35 L116.00 259.06 L116.12 259.77 L116.23 260.46 L116.35 261.15 L116.47 261.82 L116.59 262.49 L116.71 263.16 L116.83 263.81 L116.95 264.45 L117.07 265.09 L117.19 265.72 L117.32 266.34 L117.44 266.96 L117.57 267.56 L117.69 268.16 L117.82 268.75 L117.99 269.53 L118.16 270.29 L118.34 271.04 L118.51 271.78 L118.69 272.51 L118.87 273.22 L119.05 273.93 L119.23 274.62 L119.41 275.30 L119.60 275.96 L119.78 276.62 L119.97 277.26 L120.16 277.90 L120.35 278.52 L120.54 279.13 L120.74 279.74 L120.93 280.33 L121.13 280.91 L121.33 281.48 L121.58 282.18 L121.83 282.86 L122.09 283.53 L122.35 284.18 L122.61 284.82 L122.87 285.45 L123.14 286.06 L123.41 286.65 L123.68 287.24 L123.95 287.81 L124.23 288.36 L124.51 288.91 L124.79 289.43 L125.13 290.05 L125.48 290.65 L125.83 291.24 L126.18 291.80 L126.54 292.35 L126.90 292.88 L127.26 293.40 L127.63 293.90 L128.01 294.38 L128.39 294.85 L128.83 295.38 L129.28 295.88 L129.74 296.37 L130.20 296.84 L130.67 297.28 L131.15 297.71 L131.63 298.12 L132.11 298.51 L132.60 298.89 L133.10 299.24 L133.61 299.58 L134.11 299.90 L134.70 300.25 L135.30 300.58 L135.91 300.88 L136.52 301.17 L137.14 301.44 L137.77 301.68 L138.41 301.91 L139.06 302.12 L139.71 302.31 L140.37 302.48 L140.96 302.61 L141.55 302.74 L142.15 302.85 L142.76 302.94 L143.37 303.03 L143.99 303.10 L144.61 303.16 L145.25 303.20 L145.89 303.24 L146.53 303.26 L147.18 303.27 L147.84 303.27 L148.51 303.26 L149.18 303.24 L149.86 303.21 L150.55 303.17 L151.24 303.11 L151.84 303.06 L152.45 303.00 L153.06 302.93 L153.67 302.85 L154.29 302.77 L154.92 302.67 L155.55 302.58 L156.19 302.47 L156.83 302.36 L157.48 302.24 L158.13 302.12 L158.79 301.98 L159.45 301.84 L160.12 301.70 L160.79 301.55 L161.47 301.39 L162.16 301.23 L162.85 301.06 L163.55 300.88 L164.13 300.73 L164.72 300.57 L165.31 300.41 L165.91 300.25 L166.51 300.08 L167.11 299.91 L167.72 299.73 L168.33 299.55 L168.95 299.37 L169.57 299.18 L170.19 298.99 L170.82 298.79 L171.45 298.59 L172.09 298.39 L172.73 298.18 L173.37 297.97 L174.02 297.76 L174.67 297.54 L175.33 297.32 L175.99 297.09 L176.65 296.87 L177.32 296.63 L177.99 296.40 L178.67 296.16 L179.35 295.92 L180.03 295.67 L180.72 295.42 L181.42 295.17 L182.11 294.92 L182.82 294.66 L183.38 294.45 L183.95 294.24 L184.52 294.02 L185.09 293.81 L185.67 293.59 L186.25 293.37 L186.83 293.15 L187.41 292.93 L188.00 292.70 L188.59 292.48 L189.18 292.25 L189.77 292.02 L190.37 291.78 L190.97 291.55 L191.57 291.31 L192.18 291.07 L192.79 290.83 L193.40 290.59 L194.02 290.34 L194.63 290.10 L195.25 289.85 L195.88 289.60 L196.50 289.35 L197.13 289.10 L197.76 288.84 L198.40 288.58 L199.04 288.32 L199.68 288.06 L200.32 287.80 L200.96 287.54 L201.61 287.27 L202.27 287.01 L202.92 286.74 L203.58 286.47 L204.24 286.19 L204.90 285.92 L205.57 285.64 L206.24 285.37 L206.91 285.09 L207.59 284.81 L208.27 284.52 L208.95 284.24 L209.63 283.95 L210.32 283.67 L211.01 283.38 L211.70 283.09 L212.40 282.80 L213.10 282.50 L213.80 282.21 L214.51 281.91 L215.22 281.61 L215.93 281.31 L216.64 281.01 L217.36 280.71 L218.08 280.40 L218.81 280.10 L219.53 279.79 L220.26 279.48 L221.00 279.17 L221.73 278.86 L222.29 278.63 L222.84 278.39 L223.40 278.15 L223.96 277.92 L224.52 277.68 L225.08 277.44 L225.65 277.20 L226.22 276.96 L226.78 276.72 L227.35 276.48 L227.93 276.23 L228.50 275.99 L229.08 275.75 L229.65 275.50 L230.23 275.26 L230.81 275.01 L231.40 274.76 L231.98 274.51 L232.57 274.26 L233.15 274.01 L233.74 273.76 L234.34 273.51 L234.93 273.26 L235.52 273.01 L236.12 272.75 L236.72 272.50 L237.32 272.24 L237.92 271.99 L238.53 271.73 L239.13 271.47 L239.74 271.22 L240.35 270.96 L240.96 270.70 L241.58 270.44 L242.19 270.18 L242.81 269.92 L243.43 269.65 L244.05 269.39 L244.67 269.13 L245.30 268.86 L245.92 268.60 L246.55 268.33 L247.18 268.06 L247.81 267.80 L248.45 267.53 L249.08 267.26 L249.72 266.99 L250.36 266.72 L251.00 266.45 L251.65 266.18 L252.29 265.91 L252.94 265.63 L253.59 265.36 L254.24 265.08 L254.89 264.81 L255.54 264.53 L256.20 264.26 L256.86 263.98 L257.52 263.70 L258.18 263.42 L258.85 263.15 L259.51 262.87 L260.18 262.59 L260.85 262.30 L261.52 262.02 L262.20 261.74 L262.87 261.46 L263.55 261.17 L264.23 260.89 L264.91 260.60 L265.59 260.32 L266.28 260.03 L266.97 259.75 L267.66 259.46 L268.35 259.17 L269.04 258.88 L269.74 258.59 L270.43 258.30 L271.13 258.01 L271.83 257.72 L272.54 257.43 L273.24 257.14 L273.95 256.84 L274.66 256.55 L275.37 256.25 L276.08 255.96 L276.80 255.66 L277.51 255.37 L278.23 255.07 L278.95 254.77 L279.68 254.48 L280.40 254.18 L281.13 253.88 L281.86 253.58 L282.59 253.28 L283.32 252.98 L284.05 252.67 L284.79 252.37 L285.53 252.07 L286.27 251.77 L287.01 251.46 L287.76 251.16 L288.51 250.85 L289.26 250.55 L290.01 250.24 L290.76 249.93 L291.52 249.63 L292.27 249.32 L293.03 249.01 L293.79 248.70 L294.56 248.39 L295.32 248.08 L296.09 247.77 L296.86 247.46 L297.63 247.14 L298.40 246.83 L299.18 246.52 L299.96 246.20 L300.74 245.89 L301.52 245.58 L302.30 245.26 L303.09 244.94 L303.88 244.63 L304.67 244.31 L305.46 243.99 L306.25 243.67 L307.05 243.36 L307.85 243.04 L308.65 242.72 L309.45 242.40 L310.26 242.07 L311.07 241.75 L311.88 241.43 L312.69 241.11 L313.50 240.79 L314.32 240.46 L315.13 240.14 L315.95 239.81 L316.77 239.49 L317.60 239.16 L318.42 238.84 L319.25 238.51 L320.08 238.18 L320.92 237.85 L321.75 237.52 L322.59 237.20 L323.15 236.98 L323.71 236.76 L324.27 236.54 L324.83 236.32 L325.39 236.10 L325.96 235.87 L326.52 235.65 L327.09 235.43 L327.65 235.21 L328.22 234.99 L328.79 234.77 L329.36 234.55 L329.93 234.32 L330.50 234.10 L331.08 233.88 L331.65 233.66 L332.22 233.43 L332.80 233.21 L333.38 232.98 L333.95 232.76 L334.53 232.54 L335.11 232.31 L335.69 232.09 L336.27 231.86 L336.85 231.64 L337.44 231.41 L338.02 231.19 L338.61 230.96 L339.19 230.74 L339.78 230.51 L340.37 230.28 L340.96 230.06 L341.55 229.83 L342.14 229.60 L342.73 229.38 L343.33 229.15 L343.92 228.92 L344.51 228.69 L345.11 228.46 L345.71 228.24 L346.31 228.01 L346.90 227.78 L347.50 227.55 L348.11 227.32 L348.71 227.09 L349.31 226.86 L349.91 226.63 L350.52 226.40 L351.13 226.17 L351.73 225.94 L352.34 225.71 L352.95 225.48 L353.56 225.25 L354.17 225.02 L354.78 224.79 L355.39 224.55 L356.01 224.32 L356.62 224.09 L357.24 223.86 L357.86 223.62 L358.47 223.39 L359.09 223.16 L359.71 222.93 L360.33 222.69 L360.96 222.46 L361.58 222.23 L362.20 221.99 L362.83 221.76 L363.45 221.52 L364.08 221.29 L364.71 221.05 L365.34 220.82 L365.97 220.58 L366.60 220.35 L367.23 220.11 L367.87 219.88 L368.50 219.64 L369.13 219.40 L369.77 219.17 L370.41 218.93 L371.05 218.69 L371.69 218.46 L372.33 218.22 L372.97 217.98 L373.61 217.74 L374.25 217.51 L374.90 217.27 L375.54 217.03 L376.19 216.79 L376.84 216.55 L377.49 216.31 L378.13 216.07 L378.79 215.83 L379.44 215.59 L380.09 215.35 L380.74 215.11 L381.40 214.87 L382.05 214.63 L382.71 214.39 L383.37 214.15 L384.03 213.91 L384.69 213.67 L385.35 213.43 L386.01 213.19 L386.67 212.95 L387.34 212.70 L388.00 212.46 L388.67 212.22 L389.33 211.98 L390.00 211.73 L390.67 211.49 L391.34 211.25 L392.01 211.01 L392.69 210.76 L393.36 210.52 L394.03 210.27 L394.71 210.03 L395.39 209.79 L396.06 209.54 L396.74 209.30 L397.42 209.05 L398.10 208.81 L398.79 208.56 L399.47 208.32 L400.15 208.07 L400.84 207.82 L401.52 207.58 L402.21 207.33 L402.90 207.09 L403.59 206.84 L404.28 206.59 L404.97 206.35 L405.66 206.10 L406.36 205.85 L407.05 205.60 L407.75 205.36 L408.44 205.11 L409.14 204.86 L409.84 204.61 L410.54 204.36 L411.24 204.11 L411.94 203.87 L412.65 203.62 L413.35 203.37 L414.05 203.12 L414.76 202.87 L415.47 202.62 L416.18 202.37 L416.89 202.12 L417.60 201.87 L418.31 201.62 L419.02 201.37 L419.74 201.12 L420.45 200.87 L421.17 200.61 L421.88 200.36 L422.60 200.11 L423.32 199.86 L424.04 199.61 L424.76 199.36 L425.49 199.10 L426.21 198.85 L426.93 198.60 L427.66 198.34 L428.39 198.09 L429.12 197.84 L429.84 197.59 L430.57 197.33 L431.31 197.08 L432.04 196.82 L432.77 196.57 L433.51 196.32 L434.24 196.06 L434.98 195.81 L435.72 195.55 L436.46 195.30 L437.20 195.04 L437.94 194.79 L438.68 194.53 L439.42 194.27 L440.17 194.02 L440.91 193.76 L441.66 193.51 L442.41 193.25 L443.16 192.99 L443.91 192.74 L444.66 192.48 L445.41 192.22 L446.16 191.96 L446.92 191.71 L447.67 191.45 L448.43 191.19 L449.19 190.93 L449.95 190.67 L450.71 190.42 L451.47 190.16 L452.23 189.90 L452.99 189.64 L453.76 189.38 L454.52 189.12 L455.29 188.86 L456.06 188.60 L456.83 188.34 L457.60 188.08 L458.37 187.82 L459.14 187.56 L459.91 187.30 L460.69 187.04 L461.46 186.78 L462.24 186.52 L463.02 186.26 L463.80 186.00 L464.58 185.74 L465.36 185.47 L466.14 185.21 L466.93 184.95 L467.71 184.69 L468.50 184.43 L469.28 184.16 L470.07 183.90 L470.86 183.64 L471.65 183.37 L472.44 183.11 L473.24 182.85 L474.03 182.58 L474.82 182.32 L475.62 182.06 L476.42 181.79 L477.22 181.53 L478.02 181.26 L478.82 181.00 L479.62 180.73 L480.42 180.47 L481.22 180.20 L482.03 179.94 L482.84 179.67 L483.64 179.41 L484.45 179.14 L485.26 178.88 L486.07 178.61 L486.89 178.34 L487.70 178.08 L488.51 177.81 L489.33 177.54 L490.15 177.28 L490.96 177.01 L491.78 176.74 L492.60 176.48 L493.42 176.21 L494.25 175.94 L495.07 175.67 L495.90 175.40 L496.72 175.14 L497.55 174.87 L498.38 174.60 L499.21 174.33 L500.04 174.06 L500.87 173.79 L501.70 173.52 L502.54 173.25 L503.37 172.98 L504.21 172.71 L505.05 172.44 L505.89 172.17 L506.73 171.90 L507.57 171.63 L508.41 171.36 L509.25 171.09 L510.10 170.82 L510.94 170.55 L511.79 170.28 L512.64 170.01 L513.49 169.74 L514.34 169.47 L515.19 169.19 L516.04 168.92 L516.90 168.65 L517.75 168.38 L518.61 168.10 L519.47 167.83 L520.33 167.56 L521.19 167.29 L522.05 167.01 L522.91 166.74 L523.77 166.47 L524.64 166.19 L525.50 165.92 L526.37 165.65 L527.24 165.37 L528.11 165.10 L528.98 164.82 L529.85 164.55 L530.73 164.27 L531.60 164.00 L532.48 163.72 L533.35 163.45 L534.23 163.17 L535.11 162.90 L535.99 162.62 L536.87 162.35 L537.75 162.07 L538.64 161.80 L539.52 161.52 L540.41 161.24 L541.30 160.97 L542.19 160.69 L543.08 160.41 L543.97 160.14 L544.86 159.86 L545.75 159.58 L546.65 159.30 L547.54 159.03 L548.44 158.75 L549.34 158.47 L550.24 158.19 L551.14 157.91 L552.04 157.64 L552.95 157.36 L553.85 157.08 L554.76 156.80 L555.66 156.52 L556.57 156.24 L557.48 155.96 L558.39 155.68 L559.30 155.40 L560.22 155.12 L561.13 154.84 L562.05 154.56 L562.96 154.28 L563.88 154.00 L564.34 153.86" fill="none" stroke="#ffff00" stroke-width="2.60" stroke-linejoin="round"/>
<path d="M104.56 16.02 L104.57 17.76 L104.58 19.19 L104.59 20.60 L104.60 22.01 L104.61 23.41 L104.62 24.81 L104.64 26.19 L104.65 27.57 L104.66 28.94 L104.67 30.30 L104.68 31.65 L104.69 33.00 L104.70 34.34 L104.71 35.67 L104.73 37.00 L104.74 38.31 L104.75 39.62 L104.76 40.92 L104.77 42.22 L104.78 43.51 L104.79 44.79 L104.81 46.06 L104.82 47.33 L104.83 48.59 L104.84 49.84 L104.85 51.08 L104.87 52.32 L104.88 53.56 L104.89 54.78 L104.90 56.00 L104.91 57.21 L104.93 58.42 L104.94 59.62 L104.95 60.81 L104.96 62.00 L104.98 63.18 L104.99 64.35 L105.00 65.52 L105.01 66.68 L105.03 67.83 L105.04 68.98 L105.05 70.12 L105.06 71.26 L105.08 72.39 L105.09 73.51 L105.10 74.63 L105.12 75.74 L105.13 76.85 L105.14 77.95 L105.16 79.05 L105.17 80.14 L105.18 81.22 L105.20 82.30 L105.21 83.37 L105.22 84.44 L105.24 85.50 L105.25 86.55 L105.26 87.60 L105.28 88.65 L105.29 89.69 L105.30 90.72 L105.32 91.75 L105.33 92.77 L105.35 93.79 L105.36 94.80 L105.37 95.81 L105.39 96.81 L105.40 97.81 L105.42 98.80 L105.43 99.79 L105.44 100.77 L105.46 101.75 L105.47 102.72 L105.49 103.68 L105.50 104.65 L105.52 105.60 L105.53 106.56 L105.55 107.50 L105.56 108.45 L105.58 109.38 L105.59 110.32 L105.61 111.25 L105.62 112.17 L105.64 113.09 L105.65 114.00 L105.67 114.91 L105.68 115.82 L105.70 116.72 L105.71 117.62 L105.73 118.51 L105.74 119.40 L105.76 120.28 L105.77 121.16 L105.79 122.03 L105.80 122.90 L105.82 123.77 L105.84 124.63 L105.85 125.49 L105.87 126.34 L105.88 127.19 L105.90 128.04 L105.91 128.88 L105.93 129.71 L105.95 130.55 L105.96 131.37 L105.98 132.20 L106.00 133.02 L106.01 133.84 L106.03 134.65 L106.04 135.46 L106.06 136.26 L106.08 137.06 L106.09 137.86 L106.11 138.65 L106.13 139.44 L106.14 140.23 L106.16 141.01 L106.18 141.79 L106.20 142.56 L106.21 143.33 L106.23 144.10 L106.25 144.86 L106.26 145.62 L106.28 146.38 L106.30 147.13 L106.32 147.88 L106.33 148.62 L106.35 149.36 L106.37 150.10 L106.39 150.84 L106.40 151.57 L106.42 152.30 L106.44 153.02 L106.46 153.74 L106.48 154.46 L106.49 155.17 L106.51 155.88 L106.53 156.59 L106.55 157.30 L106.57 158.00 L106.58 158.69 L106.60 159.39 L106.62 160.08 L106.64 160.77 L106.66 161.45 L106.68 162.13 L106.70 162.81 L106.71 163.49 L106.73 164.16 L106.75 164.83 L106.77 165.49 L106.79 166.16 L106.81 166.82 L106.83 167.47 L106.85 168.13 L106.87 168.78 L106.89 169.43 L106.91 170.07 L106.93 170.71 L106.94 171.35 L106.96 171.99 L106.98 172.62 L107.00 173.25 L107.02 173.88 L107.04 174.50 L107.06 175.12 L107.08 175.74 L107.10 176.36 L107.12 176.97 L107.14 177.58 L107.16 178.19 L107.18 178.79 L107.20 179.39 L107.24 180.59 L107.29 181.78 L107.33 182.95 L107.37 184.11 L107.41 185.27 L107.45 186.41 L107.50 187.54 L107.54 188.67 L107.58 189.78 L107.62 190.88 L107.67 191.98 L107.71 193.06 L107.76 194.13 L107.80 195.20 L107.84 196.25 L107.89 197.30 L107.93 198.34 L107.98 199.36 L108.03 200.38 L108.07 201.39 L108.12 202.39 L108.16 203.38 L108.21 204.37 L108.26 205.34 L108.31 206.31 L108.35 207.27 L108.40 208.22 L108.45 209.16 L108.50 210.09 L108.55 211.02 L108.60 211.94 L108.64 212.85 L108.69 213.75 L108.74 214.64 L108.79 215.53 L108.84 216.41 L108.90 217.28 L108.95 218.14 L109.00 219.00 L109.05 219.85 L109.10 220.69 L109.15 221.52 L109.21 222.35 L109.26 223.17 L109.31 223.99 L109.36 224.79 L109.42 225.59 L109.47 226.39 L109.53 227.17 L109.58 227.95 L109.64 228.73 L109.69 229.49 L109.75 230.25 L109.80 231.01 L109.86 231.76 L109.91 232.50 L109.97 233.23 L110.03 233.96 L110.09 234.68 L110.14 235.40 L110.20 236.11 L110.26 236.82 L110.32 237.52 L110.38 238.21 L110.44 238.90 L110.50 239.58 L110.56 240.25 L110.62 240.92 L110.68 241.59 L110.74 242.25 L110.80 242.90 L110.86 243.55 L110.92 244.19 L110.98 244.83 L111.04 245.46 L111.11 246.09 L111.17 246.71 L111.23 247.33 L111.30 247.94 L111.36 248.55 L111.43 249.15 L111.52 250.04 L111.62 250.92 L111.72 251.79 L111.82 252.65 L111.92 253.50 L112.02 254.34 L112.12 255.17 L112.22 255.99 L112.32 256.79 L112.43 257.59 L112.53 258.38 L112.64 259.16 L112.74 259.93 L112.85 260.69 L112.96 261.44 L113.07 262.18 L113.17 262.91 L113.28 263.63 L113.40 264.34 L113.51 265.05 L113.62 265.74 L113.73 266.43 L113.85 267.11 L113.96 267.78 L114.08 268.44 L114.19 269.09 L114.31 269.73 L114.43 270.37 L114.54 271.00 L114.66 271.62 L114.78 272.23 L114.91 272.84 L115.03 273.44 L115.15 274.03 L115.31 274.80 L115.48 275.56 L115.65 276.31 L115.82 277.05 L115.99 277.77 L116.16 278.48 L116.33 279.18 L116.51 279.87 L116.69 280.55 L116.86 281.21 L117.04 281.86 L117.23 282.50 L117.41 283.13 L117.59 283.75 L117.78 284.36 L117.97 284.96 L118.16 285.55 L118.35 286.12 L118.59 286.83 L118.83 287.52 L119.08 288.19 L119.32 288.85 L119.58 289.50 L119.83 290.13 L120.08 290.74 L120.34 291.34 L120.60 291.93 L120.87 292.50 L121.13 293.06 L121.40 293.61 L121.73 294.25 L122.06 294.87 L122.39 295.47 L122.73 296.05 L123.07 296.62 L123.42 297.16 L123.77 297.69 L124.12 298.21 L124.48 298.71 L124.84 299.19 L125.26 299.73 L125.70 300.25 L126.13 300.75 L126.58 301.23 L127.02 301.69 L127.48 302.13 L127.94 302.56 L128.40 302.96 L128.88 303.35 L129.35 303.71 L129.91 304.11 L130.47 304.49 L131.03 304.84 L131.61 305.17 L132.19 305.48 L132.78 305.77 L133.38 306.04 L133.99 306.29 L134.60 306.52 L135.23 306.73 L135.86 306.92 L136.50 307.10 L137.15 307.26 L137.80 307.39 L138.47 307.52 L139.14 307.62 L139.73 307.70 L140.34 307.76 L140.94 307.82 L141.56 307.86 L142.18 307.89 L142.81 307.90 L143.44 307.91 L144.09 307.90 L144.74 307.89 L145.39 307.86 L146.05 307.82 L146.72 307.77 L147.40 307.71 L148.08 307.64 L148.77 307.56 L149.37 307.48 L149.97 307.40 L150.57 307.31 L151.19 307.21 L151.80 307.10 L152.43 306.99 L153.05 306.87 L153.69 306.74 L154.33 306.61 L154.97 306.47 L155.62 306.32 L156.27 306.17 L156.93 306.01 L157.60 305.85 L158.27 305.67 L158.95 305.50 L159.63 305.31 L160.32 305.12 L161.01 304.93 L161.59 304.76 L162.18 304.59 L162.76 304.41 L163.36 304.23 L163.95 304.05 L164.56 303.86 L165.16 303.67 L165.77 303.47 L166.38 303.28 L167.00 303.07 L167.62 302.87 L168.25 302.66 L168.87 302.44 L169.51 302.22 L170.14 302.00 L170.79 301.78 L171.43 301.55 L172.08 301.32 L172.73 301.08 L173.39 300.85 L174.05 300.60 L174.72 300.36 L175.39 300.11 L176.06 299.86 L176.74 299.60 L177.42 299.34 L178.11 299.08 L178.80 298.82 L179.49 298.55 L180.19 298.28 L180.75 298.06 L181.32 297.83 L181.89 297.61 L182.46 297.39 L183.03 297.16 L183.61 296.93 L184.18 296.70 L184.77 296.46 L185.35 296.23 L185.94 295.99 L186.53 295.75 L187.12 295.51 L187.71 295.27 L188.31 295.02 L188.91 294.78 L189.52 294.53 L190.12 294.28 L190.73 294.03 L191.35 293.77 L191.96 293.52 L192.58 293.26 L193.20 293.00 L193.82 292.74 L194.45 292.48 L195.08 292.21 L195.71 291.95 L196.35 291.68 L196.98 291.41 L197.63 291.14 L198.27 290.87 L198.92 290.59 L199.57 290.32 L200.22 290.04 L200.87 289.76 L201.53 289.48 L202.19 289.20 L202.86 288.91 L203.53 288.62 L204.20 288.34 L204.87 288.05 L205.55 287.76 L206.22 287.46 L206.91 287.17 L207.59 286.88 L208.28 286.58 L208.97 286.28 L209.67 285.98 L210.36 285.68 L211.06 285.37 L211.77 285.07 L212.47 284.76 L213.18 284.46 L213.89 284.15 L214.61 283.84 L215.33 283.52 L216.05 283.21 L216.78 282.90 L217.50 282.58 L218.23 282.26 L218.78 282.02 L219.34 281.78 L219.89 281.54 L220.45 281.30 L221.00 281.06 L221.56 280.81 L222.12 280.57 L222.68 280.32 L223.25 280.08 L223.82 279.83 L224.38 279.58 L224.95 279.34 L225.52 279.09 L226.10 278.84 L226.67 278.59 L227.25 278.34 L227.83 278.08 L228.41 277.83 L228.99 277.58 L229.57 277.32 L230.16 277.07 L230.75 276.81 L231.34 276.56 L231.93 276.30 L232.52 276.04 L233.12 275.78 L233.71 275.52 L234.31 275.26 L234.91 275.00 L235.51 274.74 L236.12 274.48 L236.72 274.22 L237.33 273.95 L237.94 273.69 L238.55 273.42 L239.16 273.16 L239.78 272.89 L240.40 272.62 L241.01 272.35 L241.63 272.09 L242.26 271.82 L242.88 271.55 L243.51 271.28 L244.13 271.00 L244.76 270.73 L245.40 270.46 L246.03 270.19 L246.67 269.91 L247.30 269.64 L247.94 269.36 L248.58 269.08 L249.23 268.81 L249.87 268.53 L250.52 268.25 L251.17 267.97 L251.82 267.69 L252.47 267.41 L253.12 267.13 L253.78 266.85 L254.44 266.57 L255.10 266.29 L255.76 266.00 L256.42 265.72 L257.09 265.43 L257.76 265.15 L258.43 264.86 L259.10 264.57 L259.77 264.29 L260.45 264.00 L261.12 263.71 L261.80 263.42 L262.48 263.13 L263.17 262.84 L263.85 262.55 L264.54 262.26 L265.23 261.96 L265.92 261.67 L266.61 261.38 L267.31 261.08 L268.00 260.79 L268.70 260.49 L269.40 260.20 L270.11 259.90 L270.81 259.60 L271.52 259.30 L272.23 259.01 L272.94 258.71 L273.65 258.41 L274.36 258.11 L275.08 257.81 L275.80 257.50 L276.52 257.20 L277.24 256.90 L277.97 256.60 L278.69 256.29 L279.42 255.99 L280.15 255.68 L280.89 255.38 L281.62 255.07 L282.36 254.76 L283.10 254.46 L283.84 254.15 L284.58 253.84 L285.33 253.53 L286.07 253.22 L286.82 252.91 L287.57 252.60 L288.32 252.29 L289.08 251.97 L289.84 251.66 L290.60 251.35 L291.36 251.04 L292.12 250.72 L292.89 250.41 L293.65 250.09 L294.42 249.77 L295.19 249.46 L295.97 249.14 L296.74 248.82 L297.52 248.51 L298.30 248.19 L299.08 247.87 L299.87 247.55 L300.65 247.23 L301.44 246.91 L302.23 246.58 L303.02 246.26 L303.82 245.94 L304.61 245.62 L305.41 245.29 L306.21 244.97 L307.02 244.64 L307.82 244.32 L308.63 243.99 L309.44 243.67 L310.25 243.34 L311.06 243.01 L311.88 242.69 L312.69 242.36 L313.51 242.03 L314.34 241.70 L315.16 241.37 L315.99 241.04 L316.81 240.71 L317.65 240.38 L318.48 240.04 L319.31 239.71 L319.87 239.49 L320.43 239.27 L320.99 239.04 L321.55 238.82 L322.11 238.60 L322.67 238.38 L323.24 238.15 L323.80 237.93 L324.37 237.71 L324.93 237.48 L325.50 237.26 L326.07 237.03 L326.64 236.81 L327.21 236.58 L327.78 236.36 L328.35 236.13 L328.92 235.91 L329.50 235.68 L330.07 235.46 L330.65 235.23 L331.23 235.00 L331.80 234.78 L332.38 234.55 L332.96 234.32 L333.54 234.09 L334.13 233.87 L334.71 233.64 L335.29 233.41 L335.88 233.18 L336.46 232.96 L337.05 232.73 L337.64 232.50 L338.23 232.27 L338.82 232.04 L339.41 231.81 L340.00 231.58 L340.59 231.35 L341.18 231.12 L341.78 230.89 L342.38 230.66 L342.97 230.43 L343.57 230.20 L344.17 229.97 L344.77 229.74 L345.37 229.50 L345.97 229.27 L346.57 229.04 L347.18 228.81 L347.78 228.58 L348.39 228.34 L348.99 228.11 L349.60 227.88 L350.21 227.64 L350.82 227.41 L351.43 227.18 L352.04 226.94 L352.65 226.71 L353.27 226.47 L353.88 226.24 L354.50 226.00 L355.11 225.77 L355.73 225.53 L356.35 225.30 L356.97 225.06 L357.59 224.83 L358.21 224.59 L358.83 224.36 L359.46 224.12 L360.08 223.88 L360.71 223.65 L361.33 223.41 L361.96 223.17 L362.59 222.93 L363.22 222.70 L363.85 222.46 L364.48 222.22 L365.12 221.98 L365.75 221.74 L366.39 221.51 L367.02 221.27 L367.66 221.03 L368.30 220.79 L368.93 220.55 L369.57 220.31 L370.22 220.07 L370.86 219.83 L371.50 219.59 L372.14 219.35 L372.79 219.11 L373.44 218.87 L374.08 218.63 L374.73 218.39 L375.38 218.14 L376.03 217.90 L376.68 217.66 L377.33 217.42 L377.99 217.18 L378.64 216.93 L379.30 216.69 L379.95 216.45 L380.61 216.21 L381.27 215.96 L381.93 215.72 L382.59 215.48 L383.25 215.23 L383.91 214.99 L384.58 214.74 L385.24 214.50 L385.91 214.26 L386.58 214.01 L387.24 213.77 L387.91 213.52 L388.58 213.28 L389.25 213.03 L389.93 212.78 L390.60 212.54 L391.27 212.29 L391.95 212.05 L392.62 211.80 L393.30 211.55 L393.98 211.31 L394.66 211.06 L395.34 210.81 L396.02 210.56 L396.71 210.32 L397.39 210.07 L398.07 209.82 L398.76 209.57 L399.45 209.32 L400.13 209.08 L400.82 208.83 L401.51 208.58 L402.20 208.33 L402.90 208.08 L403.59 207.83 L404.28 207.58 L404.98 207.33 L405.68 207.08 L406.37 206.83 L407.07 206.58 L407.77 206.33 L408.47 206.08 L409.18 205.83 L409.88 205.58 L410.58 205.33 L411.29 205.08 L411.99 204.82 L412.70 204.57 L413.41 204.32 L414.12 204.07 L414.83 203.81 L415.54 203.56 L416.25 203.31 L416.97 203.06 L417.68 202.80 L418.40 202.55 L419.11 202.30 L419.83 202.04 L420.55 201.79 L421.27 201.54 L421.99 201.28 L422.72 201.03 L423.44 200.77 L424.16 200.52 L424.89 200.26 L425.62 200.01 L426.34 199.75 L427.07 199.50 L427.80 199.24 L428.53 198.99 L429.27 198.73 L430.00 198.47 L430.73 198.22 L431.47 197.96 L432.21 197.70 L432.94 197.45 L433.68 197.19 L434.42 196.93 L435.16 196.68 L435.91 196.42 L436.65 196.16 L437.39 195.90 L438.14 195.64 L438.89 195.39 L439.63 195.13 L440.38 194.87 L441.13 194.61 L441.88 194.35 L442.64 194.09 L443.39 193.83 L444.14 193.57 L444.90 193.31 L445.66 193.05 L446.41 192.79 L447.17 192.53 L447.93 192.27 L448.69 192.01 L449.45 191.75 L450.22 191.49 L450.98 191.23 L451.75 190.97 L452.51 190.71 L453.28 190.45 L454.05 190.18 L454.82 189.92 L455.59 189.66 L456.36 189.40 L457.14 189.13 L457.91 188.87 L458.69 188.61 L459.46 188.35 L460.24 188.08 L461.02 187.82 L461.80 187.56 L462.58 187.29 L463.37 187.03 L464.15 186.77 L464.93 186.50 L465.72 186.24 L466.51 185.97 L467.29 185.71 L468.08 185.44 L468.87 185.18 L469.67 184.91 L470.46 184.65 L471.25 184.38 L472.05 184.12 L472.84 183.85 L473.64 183.59 L474.44 183.32 L475.24 183.05 L476.04 182.79 L476.84 182.52 L477.64 182.25 L478.45 181.99 L479.25 181.72 L480.06 181.45 L480.87 181.18 L481.68 180.92 L482.49 180.65 L483.30 180.38 L484.11 180.11 L484.92 179.84 L485.74 179.58 L486.55 179.31 L487.37 179.04 L488.19 178.77 L489.01 178.50 L489.83 178.23 L490.65 177.96 L491.47 177.69 L492.29 177.42 L493.12 177.15 L493.95 176.88 L494.77 176.61 L495.60 176.34 L496.43 176.07 L497.26 175.80 L498.09 175.53 L498.93 175.26 L499.76 174.99 L500.60 174.72 L501.43 174.45 L502.27 174.17 L503.11 173.90 L503.95 173.63 L504.79 173.36 L505.63 173.09 L506.48 172.81 L507.32 172.54 L508.17 172.27 L509.02 171.99 L509.86 171.72 L510.71 171.45 L511.56 171.18 L512.42 170.90 L513.27 170.63 L514.12 170.35 L514.98 170.08 L515.84 169.81 L516.69 169.53 L517.55 169.26 L518.41 168.98 L519.27 168.71 L520.14 168.43 L521.00 168.16 L521.87 167.88 L522.73 167.61 L523.60 167.33 L524.47 167.06 L525.34 166.78 L526.21 166.50 L527.08 166.23 L527.95 165.95 L528.83 165.67 L529.70 165.40 L530.58 165.12 L531.46 164.84 L532.34 164.57 L533.22 164.29 L534.10 164.01 L534.98 163.73 L535.87 163.46 L536.75 163.18 L537.64 162.90 L538.53 162.62 L539.42 162.34 L540.31 162.07 L541.20 161.79 L542.09 161.51 L542.98 161.23 L543.88 160.95 L544.78 160.67 L545.67 160.39 L546.57 160.11 L547.47 159.83 L548.37 159.55 L549.28 159.27 L550.18 158.99 L551.08 158.71 L551.99 158.43 L552.90 158.15 L553.81 157.87 L554.71 157.59 L555.63 157.31 L556.54 157.03 L557.45 156.74 L558.37 156.46 L559.28 156.18 L560.20 155.90 L561.12 155.62 L562.04 155.34 L562.96 155.05 L563.88 154.77 L564.34 154.63" fill="none" stroke="#808080" stroke-width="2.60" stroke-linejoin="round"/>
<rect x="259.0" y="4.05" width="106.7" height="32.5" fill="#ffffff" stroke="#000" stroke-width="2"/>
<path d="M61.10 323.05 V317.75 M61.10 1.75 V7.05 M77.83 323.05 V320.05 M77.83 1.75 V4.75 M94.56 323.05 V320.05 M94.56 1.75 V4.75 M111.29 323.05 V320.05 M111.29 1.75 V4.75 M128.02 323.05 V320.05 M128.02 1.75 V4.75 M144.75 323.05 V317.75 M144.75 1.75 V7.05 M161.48 323.05 V320.05 M161.48 1.75 V4.75 M178.21 323.05 V320.05 M178.21 1.75 V4.75 M194.94 323.05 V320.05 M194.94 1.75 V4.75 M211.67 323.05 V320.05 M211.67 1.75 V4.75 M228.40 323.05 V317.75 M228.40 1.75 V7.05 M245.13 323.05 V320.05 M245.13 1.75 V4.75 M261.86 323.05 V320.05 M261.86 1.75 V4.75 M278.59 323.05 V320.05 M278.59 1.75 V4.75 M295.32 323.05 V320.05 M295.32 1.75 V4.75 M312.05 323.05 V317.75 M312.05 1.75 V7.05 M328.78 323.05 V320.05 M328.78 1.75 V4.75 M345.51 323.05 V320.05 M345.51 1.75 V4.75 M362.24 323.05 V320.05 M362.24 1.75 V4.75 M378.97 323.05 V320.05 M378.97 1.75 V4.75 M395.70 323.05 V317.75 M395.70 1.75 V7.05 M412.43 323.05 V320.05 M412.43 1.75 V4.75 M429.16 323.05 V320.05 M429.16 1.75 V4.75 M445.89 323.05 V320.05 M445.89 1.75 V4.75 M462.62 323.05 V320.05 M462.62 1.75 V4.75 M479.35 323.05 V317.75 M479.35 1.75 V7.05 M496.08 323.05 V320.05 M496.08 1.75 V4.75 M512.81 323.05 V320.05 M512.81 1.75 V4.75 M529.54 323.05 V320.05 M529.54 1.75 V4.75 M546.27 323.05 V320.05 M546.27 1.75 V4.75 M563.00 323.05 V317.75 M563.00 1.75 V7.05 M51.35 314.85 H56.65 M572.75 314.85 H567.15 M51.35 303.05 H54.35 M572.75 303.05 H569.45 M51.35 291.25 H54.35 M572.75 291.25 H569.45 M51.35 279.45 H54.35 M572.75 279.45 H569.45 M51.35 267.65 H54.35 M572.75 267.65 H569.45 M51.35 255.85 H56.65 M572.75 255.85 H567.15 M51.35 244.05 H54.35 M572.75 244.05 H569.45 M51.35 232.25 H54.35 M572.75 232.25 H569.45 M51.35 220.45 H54.35 M572.75 220.45 H569.45 M51.35 208.65 H54.35 M572.75 208.65 H569.45 M51.35 196.85 H56.65 M572.75 196.85 H567.15 M51.35 185.05 H54.35 M572.75 185.05 H569.45 M51.35 173.25 H54.35 M572.75 173.25 H569.45 M51.35 161.45 H54.35 M572.75 161.45 H569.45 M51.35 149.65 H54.35 M572.75 149.65 H569.45 M51.35 137.85 H56.65 M572.75 137.85 H567.15 M51.35 126.05 H54.35 M572.75 126.05 H569.45 M51.35 114.25 H54.35 M572.75 114.25 H569.45 M51.35 102.45 H54.35 M572.75 102.45 H569.45 M51.35 90.65 H54.35 M572.75 90.65 H569.45 M51.35 78.85 H56.65 M572.75 78.85 H567.15 M51.35 67.05 H54.35 M572.75 67.05 H569.45 M51.35 55.25 H54.35 M572.75 55.25 H569.45 M51.35 43.45 H54.35 M572.75 43.45 H569.45 M51.35 31.65 H54.35 M572.75 31.65 H569.45 M51.35 19.85 H56.65 M572.75 19.85 H567.15 M51.35 8.05 H54.35 M572.75 8.05 H569.45" stroke="#000" stroke-width="1.70" fill="none"/>
<rect x="50.50" y="0.90" width="523.10" height="323.00" fill="none" stroke="#000" stroke-width="1.70"/>
<text transform="translate(45.7,320.25) scale(0.985,1.07)" font-family="Liberation Sans, sans-serif" font-size="13.3" text-anchor="end" fill="#000">3</text>
<text transform="translate(45.7,261.25) scale(0.985,1.07)" font-family="Liberation Sans, sans-serif" font-size="13.3" text-anchor="end" fill="#000">4</text>
<text transform="translate(45.7,202.25) scale(0.985,1.07)" font-family="Liberation Sans, sans-serif" font-size="13.3" text-anchor="end" fill="#000">5</text>
<text transform="translate(45.7,143.25) scale(0.985,1.07)" font-family="Liberation Sans, sans-serif" font-size="13.3" text-anchor="end" fill="#000">6</text>
<text transform="translate(45.7,84.25) scale(0.985,1.07)" font-family="Liberation Sans, sans-serif" font-size="13.3" text-anchor="end" fill="#000">7</text>
<text transform="translate(45.7,25.25) scale(0.985,1.07)" font-family="Liberation Sans, sans-serif" font-size="13.3" text-anchor="end" fill="#000">8</text>
<text transform="translate(61.10,341.70) scale(1.120,1)" font-family="Liberation Mono, monospace" font-size="12.60" text-anchor="middle" fill="#000" stroke="#000" stroke-width="0.15">0</text>
<path d="M59.20 339.88 L63.00 335.08" stroke="#000" stroke-width="0.95" fill="none"/>
<text transform="translate(144.75,341.70) scale(1.120,1)" font-family="Liberation Mono, monospace" font-size="12.60" text-anchor="middle" fill="#000" stroke="#000" stroke-width="0.15">5</text>
<text transform="translate(224.70,341.70) scale(1.120,1)" font-family="Liberation Mono, monospace" font-size="12.60" text-anchor="middle" fill="#000" stroke="#000" stroke-width="0.15">1</text>
<text transform="translate(232.10,341.70) scale(1.120,1)" font-family="Liberation Mono, monospace" font-size="12.60" text-anchor="middle" fill="#000" stroke="#000" stroke-width="0.15">0</text>
<path d="M230.20 339.88 L234.00 335.08" stroke="#000" stroke-width="0.95" fill="none"/>
<text transform="translate(308.35,341.70) scale(1.120,1)" font-family="Liberation Mono, monospace" font-size="12.60" text-anchor="middle" fill="#000" stroke="#000" stroke-width="0.15">1</text>
<text transform="translate(315.75,341.70) scale(1.120,1)" font-family="Liberation Mono, monospace" font-size="12.60" text-anchor="middle" fill="#000" stroke="#000" stroke-width="0.15">5</text>
<text transform="translate(392.00,341.70) scale(1.120,1)" font-family="Liberation Mono, monospace" font-size="12.60" text-anchor="middle" fill="#000" stroke="#000" stroke-width="0.15">2</text>
<text transform="translate(399.40,341.70) scale(1.120,1)" font-family="Liberation Mono, monospace" font-size="12.60" text-anchor="middle" fill="#000" stroke="#000" stroke-width="0.15">0</text>
<path d="M397.50 339.88 L401.30 335.08" stroke="#000" stroke-width="0.95" fill="none"/>
<text transform="translate(475.65,341.70) scale(1.120,1)" font-family="Liberation Mono, monospace" font-size="12.60" text-anchor="middle" fill="#000" stroke="#000" stroke-width="0.15">2</text>
<text transform="translate(483.05,341.70) scale(1.120,1)" font-family="Liberation Mono, monospace" font-size="12.60" text-anchor="middle" fill="#000" stroke="#000" stroke-width="0.15">5</text>
<text transform="translate(559.30,341.70) scale(1.120,1)" font-family="Liberation Mono, monospace" font-size="12.60" text-anchor="middle" fill="#000" stroke="#000" stroke-width="0.15">3</text>
<text transform="translate(566.70,341.70) scale(1.120,1)" font-family="Liberation Mono, monospace" font-size="12.60" text-anchor="middle" fill="#000" stroke="#000" stroke-width="0.15">0</text>
<path d="M564.80 339.88 L568.60 335.08" stroke="#000" stroke-width="0.95" fill="none"/>
<text transform="translate(290.30,374.50) scale(1.020,1)" font-family="Liberation Mono, monospace" font-size="18.20" text-anchor="middle" fill="#000" stroke="#000" stroke-width="0.18">x</text>
<text transform="translate(312.20,374.50) scale(1.150,1)" font-family="Liberation Mono, monospace" font-size="17.40" text-anchor="middle" fill="#000" stroke="#000" stroke-width="0.18">r</text>
<text transform="translate(333.90,374.50) scale(1.120,1)" font-family="Liberation Mono, monospace" font-size="18.20" text-anchor="middle" fill="#000" stroke="#000" stroke-width="0.18">M</text>
<path d="M296.8 368.5 H305.1 M296.8 371.6 H305.1" stroke="#555" stroke-width="1.05" fill="none"/>
<path d="M320.1 375.4 L325.9 362.6" stroke="#333" stroke-width="1.15" fill="none"/>
<text transform="translate(22.00,173.50) rotate(-90) scale(1.000,1)" font-family="Liberation Mono, monospace" font-size="17.60" text-anchor="middle" fill="#000" stroke="#000" stroke-width="0.18">y</text>
<text transform="translate(22.00,150.70) rotate(-90) scale(0.720,1)" font-family="Liberation Mono, monospace" font-size="20.70" text-anchor="middle" fill="#000" stroke="#000" stroke-width="0.18">L</text>
<path d="M15.2 157.9 V165.7 M18.9 157.9 V165.7" stroke="#444" stroke-width="1.2" fill="none"/>
<path d="M2.6 153.6 C1.2 152.8 1.2 151.6 2.2 150.9 C3.2 150.2 3.2 149.2 1.9 148.5" stroke="#666" stroke-width="0.8" fill="none"/>
<text transform="translate(270.30,24.80) scale(1.120,1)" font-family="Liberation Mono, monospace" font-size="13.80" text-anchor="middle" fill="#000" stroke="#000" stroke-width="0.08">q</text>
<text transform="translate(286.30,24.80) scale(1.000,1)" font-family="Liberation Mono, monospace" font-size="11.50" text-anchor="middle" fill="#555">=</text>
<text transform="translate(304.00,24.80) scale(1.120,1)" font-family="Liberation Mono, monospace" font-size="13.80" text-anchor="middle" fill="#000" stroke="#000" stroke-width="0.08">0</text>
<path d="M301.92 22.81 L306.08 17.55" stroke="#000" stroke-width="1.04" fill="none"/>
<text transform="translate(312.60,24.80) scale(1.120,1)" font-family="Liberation Mono, monospace" font-size="13.80" text-anchor="middle" fill="#000" stroke="#000" stroke-width="0.08">.</text>
<text transform="translate(320.60,24.80) scale(1.120,1)" font-family="Liberation Mono, monospace" font-size="13.80" text-anchor="middle" fill="#000" stroke="#000" stroke-width="0.08">5</text>
<text transform="translate(327.40,24.80) scale(1.120,1)" font-family="Liberation Mono, monospace" font-size="13.80" text-anchor="middle" fill="#000" stroke="#000" stroke-width="0.08">,</text>
<text transform="translate(335.20,24.80) scale(1.050,1)" font-family="Liberation Serif, serif" font-size="15.50" text-anchor="middle" fill="#444" font-style="italic">α</text>
<text transform="translate(343.50,24.80) scale(0.850,1)" font-family="Liberation Mono, monospace" font-size="11.50" text-anchor="middle" fill="#555">=</text>
<text transform="translate(351.60,24.80) scale(1.120,1)" font-family="Liberation Mono, monospace" font-size="13.80" text-anchor="middle" fill="#000" stroke="#000" stroke-width="0.08">0</text>
<path d="M349.52 22.81 L353.68 17.55" stroke="#000" stroke-width="1.04" fill="none"/>
<path d="M413.9 34.20 H472.2" stroke="#ff0000" stroke-width="2.7" stroke-dasharray="7 5.8" fill="none"/>
<path d="M413 64.90 H477" stroke="#ff8000" stroke-width="2.7" fill="none"/>
<path d="M413 97.60 H477" stroke="#ffff00" stroke-width="2.7" fill="none"/>
<path d="M413 130.40 H477" stroke="#808080" stroke-width="2.7" fill="none"/>
<text transform="translate(485.05,39.80) scale(1,1.01)" font-family="Liberation Sans, sans-serif" font-size="15.8" fill="#000">RN</text>
<g transform="translate(485.7,70.40) scale(1.02,1.01)"><text font-family="Liberation Sans, sans-serif" font-size="15.8" fill="#000"><tspan font-style="italic">β</tspan> = 0.5</text></g>
<g transform="translate(485.7,104.10) scale(1.02,1.01)"><text font-family="Liberation Sans, sans-serif" font-size="15.8" fill="#000" xml:space="preserve"><tspan font-style="italic">β</tspan> = </text><path transform="translate(27.0,0) scale(0.007715,-0.007715)" d="M763 0H583V1147Q518 1085 412.5 1023T223 930V1104Q373 1174.5 485 1275T644 1471H763Z" fill="#000"/></g>
<g transform="translate(485.7,136.60) scale(1.02,1.01)"><text font-family="Liberation Sans, sans-serif" font-size="15.8" fill="#000" xml:space="preserve"><tspan font-style="italic">β</tspan> = </text><path transform="translate(27.0,0) scale(0.007715,-0.007715)" d="M763 0H583V1147Q518 1085 412.5 1023T223 930V1104Q373 1174.5 485 1275T644 1471H763Z" fill="#000"/><text x="35.78" font-family="Liberation Sans, sans-serif" font-size="15.8" fill="#000">.5</text></g>
</svg>
</body></html>
